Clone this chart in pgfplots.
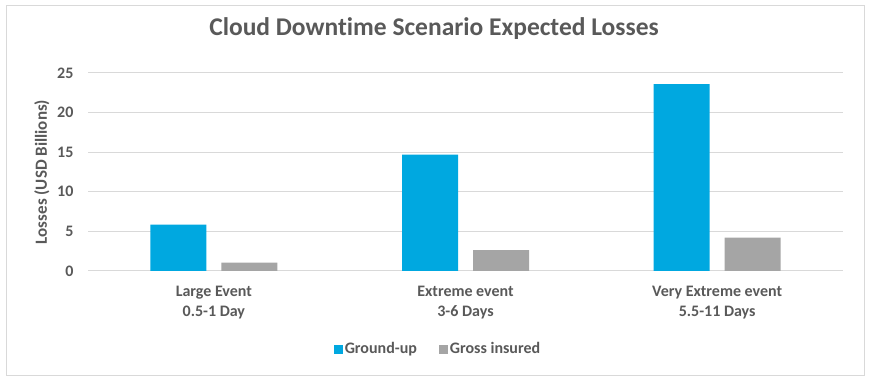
\documentclass[border=0pt]{standalone}
\usepackage{pgfplots}
\pgfplotsset{compat=1.18}
\usepackage{fontspec}
\setmainfont{Carlito}[Ligatures=NoCommon]
\definecolor{txt}{RGB}{89,89,89}
\definecolor{gridc}{RGB}{217,217,217}
\definecolor{blueb}{RGB}{0,168,224}
\definecolor{grayb}{RGB}{165,165,165}
\begin{document}
\begin{tikzpicture}
\path[use as bounding box] (0pt,0pt) rectangle (871pt,385pt);
\draw[gridc, line width=1pt] (6pt,9pt) rectangle (864pt,379pt);
\begin{axis}[
  at={(88pt,114pt)}, anchor=south west,
  scale only axis, width=755pt, height=198pt,
  ybar=15pt, bar width=56pt,
  xmin=-0.5, xmax=2.5, ymin=0, ymax=25,
  xtick={0,1,2},
  xticklabels={{Large Event\\0.5-1 Day},{Extreme event\\3-6 Days},{Very Extreme event\\5.5-11 Days}},
  xticklabel style={align=center, font=\fontsize{16}{20}\selectfont\bfseries, text=txt, yshift=-12pt},
  ytick={0,5,...,25},
  yticklabel style={font=\fontsize{16}{18}\selectfont\bfseries, text=txt, xshift=-11pt},
  /pgf/number format/assume math mode=true,
  major tick length=0pt,
  ymajorgrids, grid style={gridc, line width=1pt},
  axis x line=bottom, axis y line=left,
  x axis line style={gridc, line width=1pt, -},
  y axis line style={draw=none},
  ylabel={Losses (USD Billions)},
  ylabel style={font=\fontsize{17}{19}\selectfont\bfseries, text=txt, at={(axis description cs:-0.061,0.5)}, anchor=center},
  title={Cloud Downtime Scenario Expected Losses},
  title style={font=\fontsize{25.5}{28}\selectfont\bfseries, text=txt, at={(axis description cs:0.4583,1.157)}, anchor=base},
  legend style={at={(axis description cs:0.4636,-0.394)}, anchor=center, draw=none, legend columns=2,
    font=\fontsize{16}{18}\selectfont\bfseries, text=txt,
    /tikz/every even column/.append style={column sep=20pt}},
  legend image code/.code={\fill[#1] (0pt,-4.5pt) rectangle (9pt,4.5pt);},
  clip=false,
]
\addplot[fill=blueb, draw=none] coordinates {(0,5.85) (1,14.7) (2,23.6)};
\addplot[fill=grayb, draw=none] coordinates {(0,1.05) (1,2.65) (2,4.2)};
\legend{Ground-up, Gross insured}
\end{axis}
\end{tikzpicture}
\end{document}
